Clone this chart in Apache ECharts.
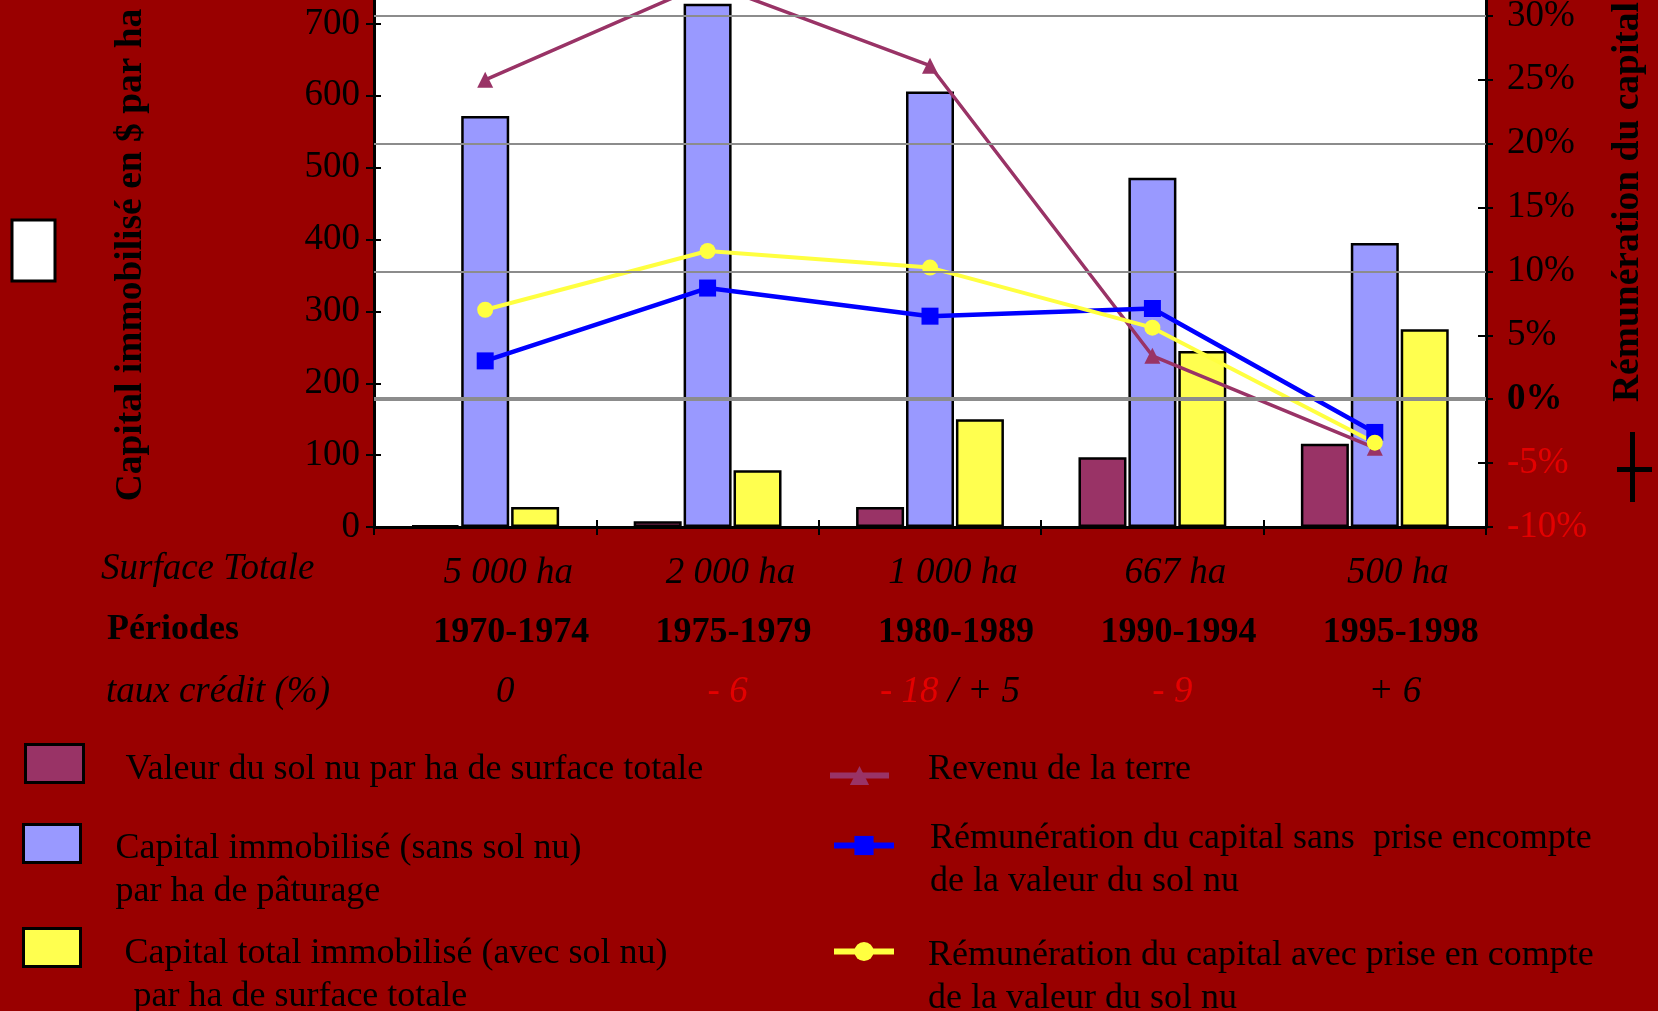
<!DOCTYPE html>
<html>
<head>
<meta charset="utf-8">
<script src="https://cdn.jsdelivr.net/npm/echarts@6/dist/echarts.min.js"></script>
<style>
    html, body { margin: 0; padding: 0; background: #990000; }
    #chart { width: 1658px; height: 1011px; }
</style>
</head>
<body>
<!-- graphique capital / rémunération -->
<div id="chart"></div>
<script>
// catégories et lignes du tableau sous l'axe
const periodes = ['1970-1974', '1975-1979', '1980-1989', '1990-1994', '1995-1998']
const surfaces = ['5 000 ha', '2 000 ha', '1 000 ha', '667 ha', '500 ha']
const tauxCredit = ['0', '- 6', '- 18 / + 5', '- 9', '+ 6']

// barres : $ par ha (axe de gauche)
const valeurSol = [2, 8, 28, 97, 116]
const capitalSansSol = [572, 728, 606, 486, 395]
const capitalTotal = [28, 79, 150, 245, 275]

// courbes : % (axe de droite)
const revenuTerre = [25.0, 32.6, 26.1, 3.4, -3.8]
const remunSans = [3.0, 8.7, 6.5, 7.1, -2.6]
const remunAvec = [7.0, 11.6, 10.3, 5.6, -3.4]

// graduations
const gaucheMin = 0, gaucheMax = 800, gauchePas = 100
const droiteMin = -10, droiteMax = 35, droitePas = 5
const lignesRepere = [0, 10, 20, 30]

const F = 'Liberation Serif'
const ROUGE = '#e30000'
const INTERLIGNE = 43

const noms = [
    'Valeur du sol nu par ha de surface totale',
    'Capital immobilisé (sans sol nu)\npar ha de pâturage',
    'Capital total immobilisé (avec sol nu)\n par ha de surface totale',
    'Revenu de la terre',
    'Rémunération du capital sans  prise encompte\nde la valeur du sol nu',
    'Rémunération du capital avec prise en compte\nde la valeur du sol nu'
]

// une légende par série ; top = haut de l'icône, decalY = décalage vertical du texte
function legende(nom, left, top, w, h, padLeft, decalY, extra) {
    var nbLignes = nom.split('\n').length
    // la boîte de la légende ne compte que les lignes de texte, pas la ligne d'espacement
    var decal = Math.max(0, (nbLignes * INTERLIGNE - h) / 2)
    return Object.assign({
        data: [nom],
        left: left,
        top: top - decal,
        itemWidth: w,
        itemHeight: h,
        padding: 0,
        selectedMode: false,
        formatter: function (n) {
            var lignes = n.split('\n').map(function (l) { return '{t|' + l + '}' })
            if (decalY > 0) lignes.unshift('{s| }')
            if (decalY < 0) lignes.push('{s| }')
            return lignes.join('\n')
        },
        textStyle: {
            padding: [0, 0, 0, padLeft],
            rich: {
                t: { color: '#000', fontFamily: F, fontSize: 36, lineHeight: INTERLIGNE },
                s: { fontSize: 1, lineHeight: 2 * Math.abs(decalY) }
            }
        }
    }, extra || {})
}
const iconeBarre = { icon: 'rect', itemStyle: { borderColor: '#000', borderWidth: 3 } }
const iconeLigne = { lineStyle: { width: 6 } }

// axe doublé pour que les graduations traversent la ligne d'axe
function axeFantome(base) {
    return Object.assign({
        axisLine: { show: false },
        axisTick: { show: true, length: 7, lineStyle: { color: '#000', width: 2 } },
        axisLabel: { show: false },
        splitLine: { show: false }
    }, base)
}

var myChart = echarts.init(document.getElementById('chart'))
var option = {
    animation: false,
    backgroundColor: '#990000',
    grid: {
        left: 374, right: 172, top: -48, bottom: 484,
        show: true, backgroundColor: '#fff', borderWidth: 0,
        outerBoundsMode: 'none'
    },
    legend: [
        legende(noms[0], 24, 744, 58, 38, 37, 6, iconeBarre),
        legende(noms[1], 22, 824, 57, 38, 30, 27, iconeBarre),
        legende(noms[2], 22, 928, 57, 38, 39, 28, iconeBarre),
        legende(noms[3], 827, 761, 59, 24, 34, -6, iconeLigne),
        legende(noms[4], 831, 833, 60, 24, 31, 15, iconeLigne),
        legende(noms[5], 831, 939, 60, 24, 29, 26, iconeLigne)
    ],
    xAxis: [
        {
            type: 'category', data: periodes, position: 'bottom',
            axisLine: { lineStyle: { color: '#000', width: 3 } },
            axisTick: { show: true, interval: 0, length: 8, lineStyle: { color: '#000', width: 2 } },
            axisLabel: { show: false }
        },
        {
            // surface totale
            type: 'category', data: surfaces, position: 'bottom',
            axisLine: { show: false }, axisTick: { show: false },
            axisLabel: { color: '#000', fontFamily: F, fontSize: 37, lineHeight: 36, fontStyle: 'italic', margin: 28, padding: [0, 0, 0, 46] }
        },
        {
            // périodes
            type: 'category', data: periodes, position: 'bottom',
            axisLine: { show: false }, axisTick: { show: false },
            axisLabel: { color: '#000', fontFamily: F, fontSize: 36, lineHeight: 36, fontWeight: 'bold', margin: 88, padding: [0, 0, 0, 52] }
        },
        {
            // taux crédit
            type: 'category', data: tauxCredit, position: 'bottom',
            axisLine: { show: false }, axisTick: { show: false },
            axisLabel: {
                margin: 147, padding: [0, 0, 0, 40],
                formatter: function (v) {
                    return v.split(' / ').map(function (p) {
                        return p.charAt(0) === '-' ? '{r|' + p + '}' : '{n|' + p + '}'
                    }).join('{n| / }')
                },
                rich: {
                    n: { color: '#000', fontFamily: F, fontSize: 37, lineHeight: 36, fontStyle: 'italic' },
                    r: { color: ROUGE, fontFamily: F, fontSize: 37, lineHeight: 36, fontStyle: 'italic' }
                }
            }
        },
        axeFantome({ type: 'category', data: periodes, position: 'bottom', axisTick: { show: true, inside: true, interval: 0, length: 7, lineStyle: { color: '#000', width: 2 } } })
    ],
    yAxis: [
        {
            type: 'value', min: gaucheMin, max: gaucheMax, interval: gauchePas, position: 'left',
            axisLine: { show: true, lineStyle: { color: '#000', width: 3 } },
            axisTick: { show: true, length: 8, lineStyle: { color: '#000', width: 2 } },
            axisLabel: { color: '#000', fontFamily: F, fontSize: 37, margin: 14 },
            splitLine: { show: false }
        },
        {
            type: 'value', min: droiteMin, max: droiteMax, interval: droitePas, position: 'right',
            axisLine: { show: true, lineStyle: { color: '#000', width: 3 } },
            axisTick: { show: true, inside: true, length: 8, lineStyle: { color: '#000', width: 2 } },
            axisLabel: {
                margin: 21,
                formatter: function (v) {
                    if (v === 0) return '{b|0%}'
                    if (v < 0) return '{r|' + v + '%}'
                    return '{n|' + v + '%}'
                },
                rich: {
                    n: { color: '#000', fontFamily: F, fontSize: 37 },
                    b: { color: '#000', fontFamily: F, fontSize: 37, fontWeight: 'bold' },
                    r: { color: ROUGE, fontFamily: F, fontSize: 37 }
                }
            },
            splitLine: { show: false }
        },
        axeFantome({ type: 'value', min: gaucheMin, max: gaucheMax, interval: gauchePas, position: 'left', axisTick: { show: true, inside: true, length: 7, lineStyle: { color: '#000', width: 2 } } }),
        axeFantome({ type: 'value', min: droiteMin, max: droiteMax, interval: droitePas, position: 'right' })
    ],
    series: [
        {
            name: noms[0], type: 'bar', data: valeurSol,
            barWidth: 48, barGap: '4%',
            itemStyle: { color: '#993366', borderColor: '#000', borderWidth: 2.5 }
        },
        {
            name: noms[1], type: 'bar', data: capitalSansSol,
            barWidth: 48, barGap: '4%',
            itemStyle: { color: '#9999ff', borderColor: '#000', borderWidth: 2.5 }
        },
        {
            name: noms[2], type: 'bar', data: capitalTotal,
            barWidth: 48, barGap: '4%',
            itemStyle: { color: '#ffff4f', borderColor: '#000', borderWidth: 2.5 }
        },
        {
            name: noms[3], type: 'line', yAxisIndex: 1, data: revenuTerre,
            symbol: 'triangle', symbolSize: 16, showAllSymbol: true,
            lineStyle: { color: '#993366', width: 3.5 },
            itemStyle: { color: '#993366' },
            // traits gris horizontaux tracés par-dessus les barres
            markLine: {
                silent: true, symbol: 'none', label: { show: false },
                lineStyle: { color: '#8c8c8c', type: 'solid', width: 2 },
                data: lignesRepere.map(function (v) {
                    return v === 0 ? { yAxis: v, lineStyle: { width: 4 } } : { yAxis: v }
                })
            }
        },
        {
            name: noms[4], type: 'line', yAxisIndex: 1, data: remunSans,
            symbol: 'rect', symbolSize: 17, showAllSymbol: true,
            lineStyle: { color: '#0000ff', width: 4.5 },
            itemStyle: { color: '#0000ff' }
        },
        {
            name: noms[5], type: 'line', yAxisIndex: 1, data: remunAvec,
            symbol: 'circle', symbolSize: 16, showAllSymbol: true,
            lineStyle: { color: '#ffff40', width: 4 },
            itemStyle: { color: '#ffff40' }
        }
    ],
    graphic: [
        // case blanche à gauche
        { type: 'rect', shape: { x: 12, y: 220, width: 43, height: 61 }, style: { fill: '#fff', stroke: '#000', lineWidth: 3 } },
        // titres des axes
        {
            type: 'text', x: 131, y: 255, rotation: Math.PI / 2,
            style: { text: 'Capital immobilisé en $ par ha', fontFamily: F, fontSize: 37.5, fontWeight: 'bold', fill: '#000', align: 'center', verticalAlign: 'middle' }
        },
        {
            type: 'text', x: 1628, y: 202, rotation: Math.PI / 2,
            style: { text: 'Rémunération du capital', fontFamily: F, fontSize: 37.5, fontWeight: 'bold', fill: '#000', align: 'center', verticalAlign: 'middle' }
        },
        // le signe + sous le titre de droite
        { type: 'rect', shape: { x: 1630, y: 432, width: 5, height: 70 }, style: { fill: '#000' } },
        { type: 'rect', shape: { x: 1617, y: 467, width: 35, height: 5 }, style: { fill: '#000' } },
        // en-têtes des lignes du tableau
        { type: 'text', x: 101, y: 569, style: { text: 'Surface Totale', fontFamily: F, fontSize: 37, fontStyle: 'italic', fill: '#000', verticalAlign: 'middle' } },
        { type: 'text', x: 107, y: 630, style: { text: 'Périodes', fontFamily: F, fontSize: 36, fontWeight: 'bold', fill: '#000', verticalAlign: 'middle' } },
        { type: 'text', x: 106, y: 692, style: { text: 'taux crédit (%)', fontFamily: F, fontSize: 37, fontStyle: 'italic', fill: '#000', verticalAlign: 'middle' } }
    ]
}

option && myChart.setOption(option)
</script>
</body>
</html>
